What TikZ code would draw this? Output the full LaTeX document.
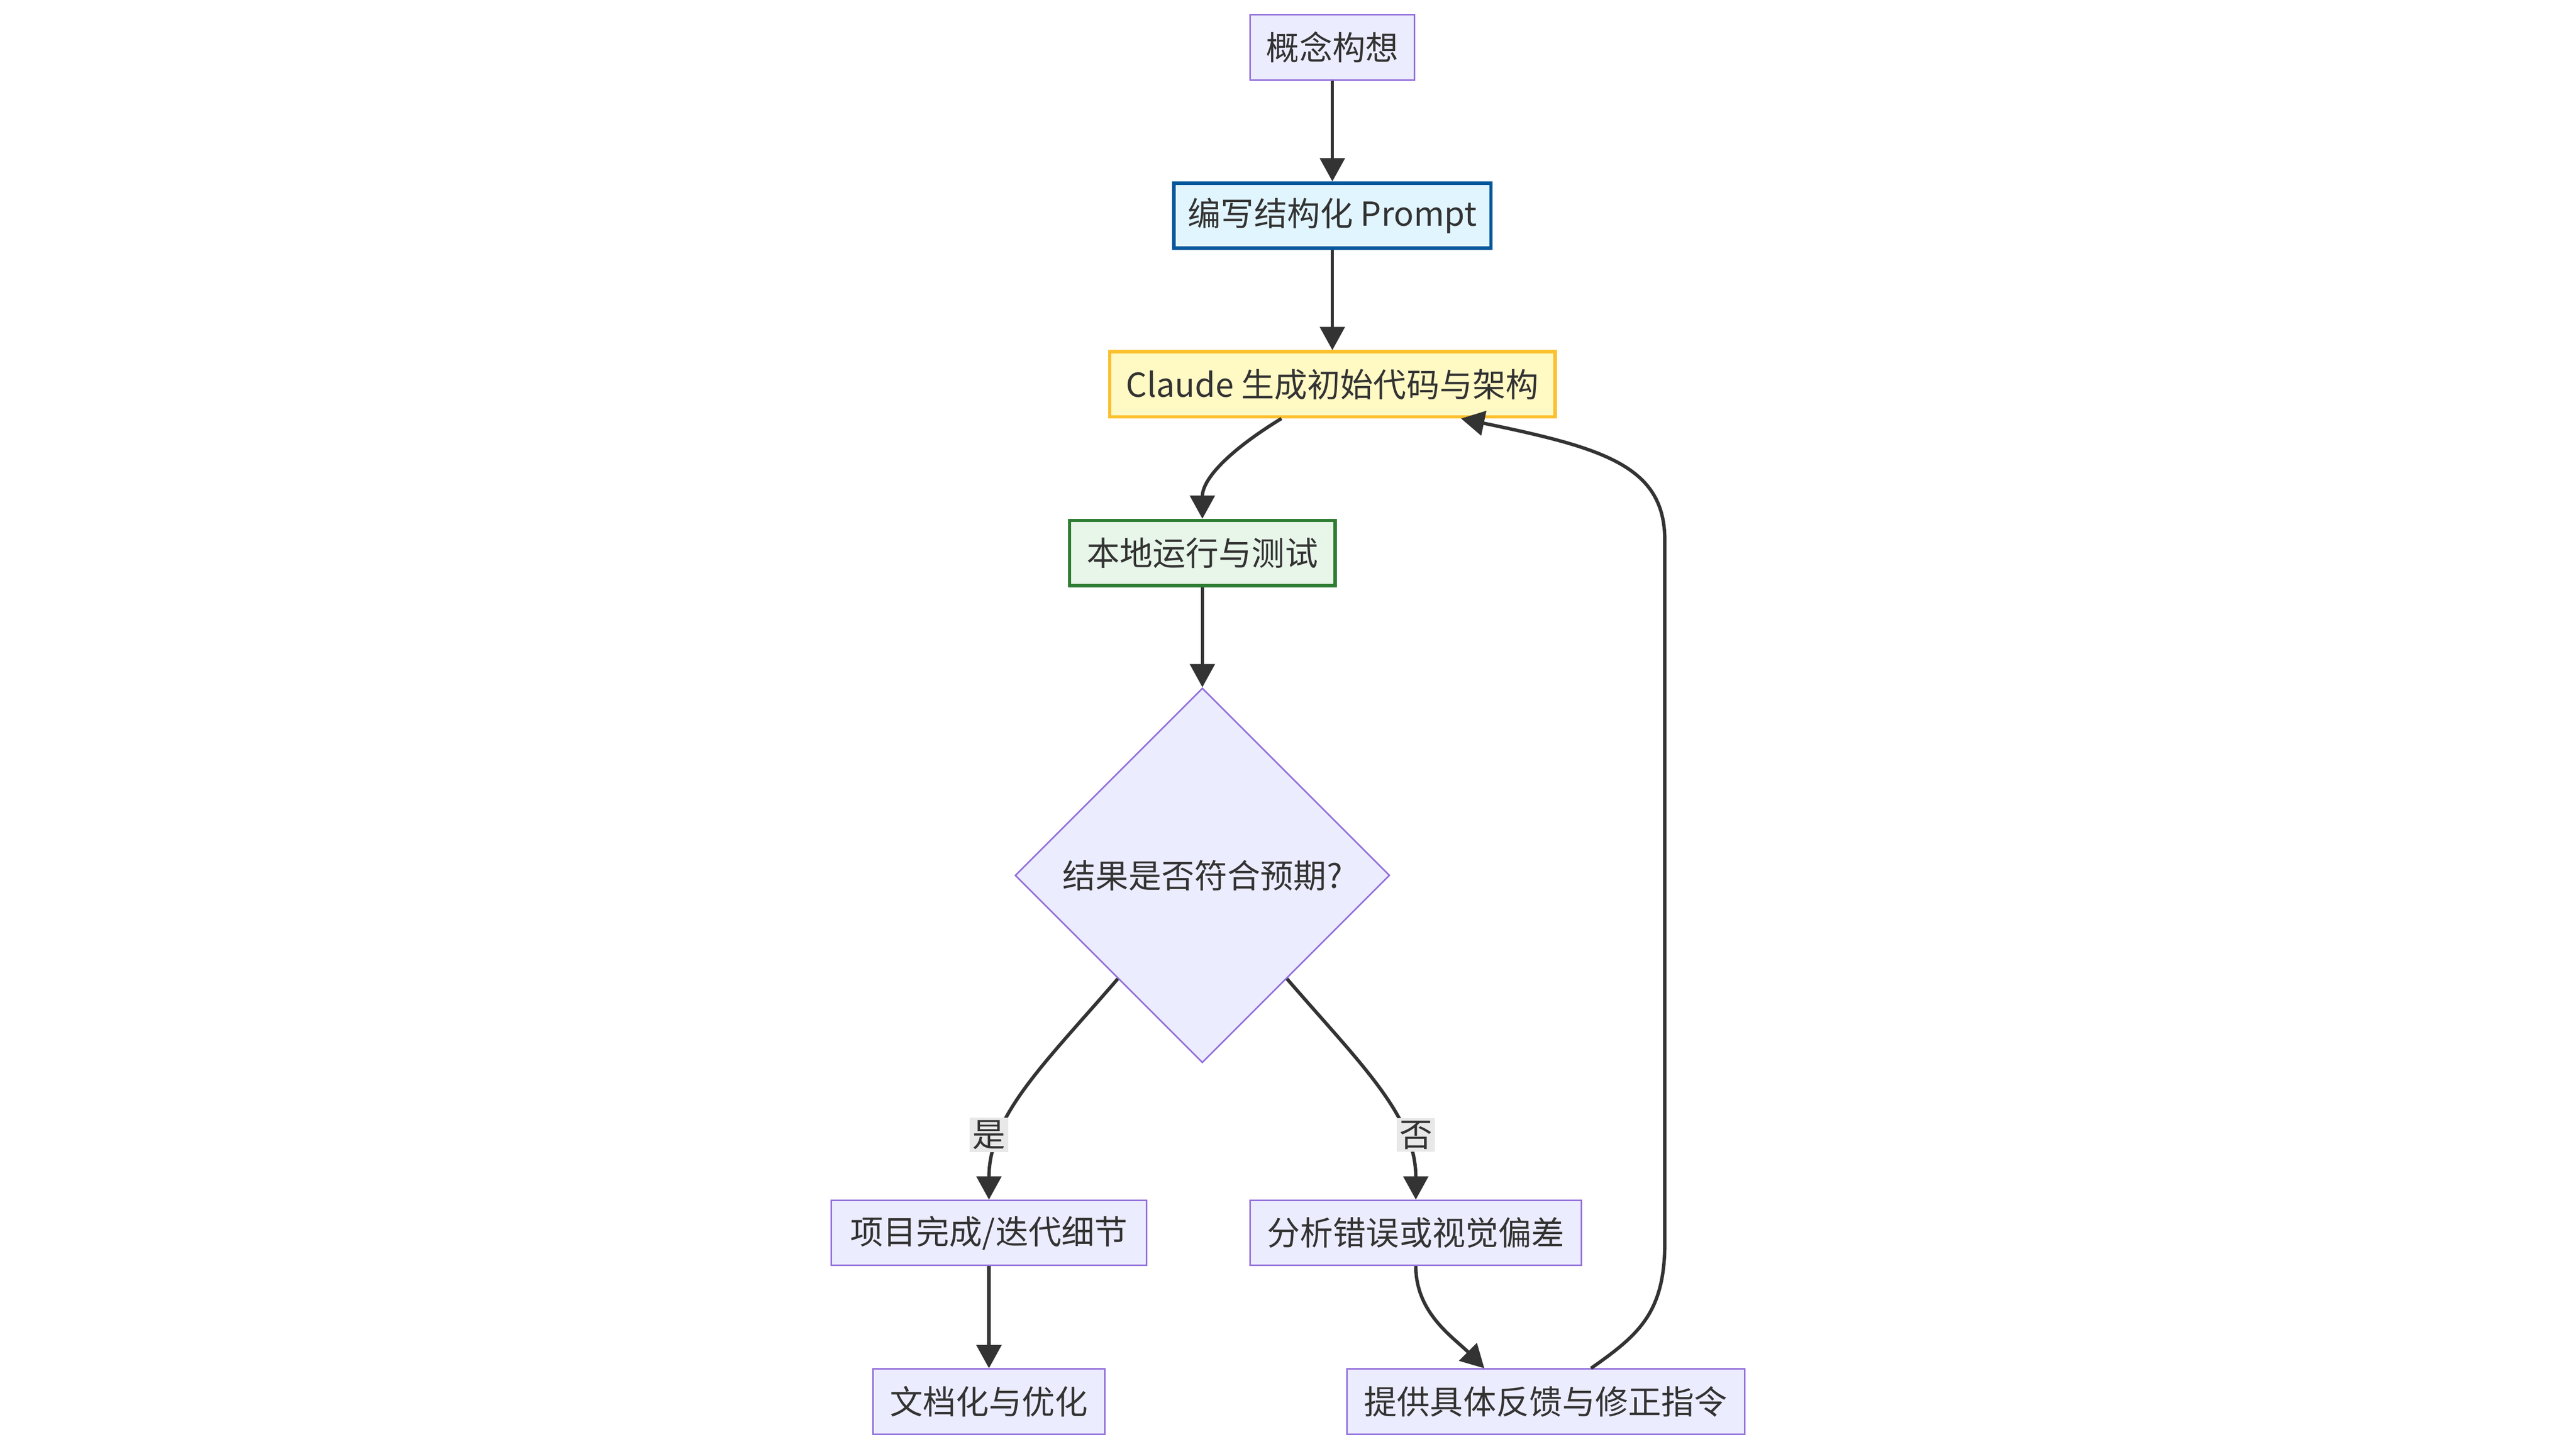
\documentclass[tikz,border=0pt]{standalone}
\usepackage{fontspec}
\setmainfont{Noto Sans CJK SC}
\definecolor{mmfill}{RGB}{236, 236, 255}
\definecolor{mmline}{RGB}{147, 112, 219}
\definecolor{txtgray}{RGB}{51, 51, 51}
\definecolor{promptfill}{RGB}{225, 245, 254}
\definecolor{promptline}{RGB}{1, 87, 155}
\definecolor{claudefill}{RGB}{255, 249, 196}
\definecolor{claudeline}{RGB}{251, 192, 45}
\definecolor{testfill}{RGB}{232, 245, 233}
\definecolor{testline}{RGB}{46, 125, 50}
\definecolor{lblgray}{RGB}{232, 232, 232}
\usetikzlibrary{shapes.geometric, arrows.meta, positioning, calc}
\newcommand{\nodefont}{\fontsize{21.4pt}{25pt}\selectfont}

\begin{document}
\begin{tikzpicture}[
  stepbox/.style={draw=mmline, fill=mmfill, line width=1pt, minimum height=1.48cm, inner sep=0pt, text=txtgray, font=\nodefont},
  thickbox/.style={stepbox, line width=2.2pt},
  decision/.style={diamond, aspect=1, draw=mmline, fill=mmfill, line width=1pt, minimum width=8.53cm, minimum height=8.53cm, inner sep=0pt, text=txtgray, font=\nodefont},
  flowarrow/.style={draw=txtgray, line width=2.2pt, -{Triangle[length=0.53cm, width=0.56cm]}},
  lbl/.style={fill=lblgray, inner sep=0.06cm, text=txtgray, font=\nodefont}
]
  \useasboundingbox (0, 0) rectangle (58.66, -32.98);

  % Main chain
  \node[stepbox, minimum width=3.75cm] (idea) at (30.34, -1.08) {概念构想};
  \node[thickbox, draw=promptline, fill=promptfill, minimum width=7.22cm] (prompt) at (30.34, -4.91) {编写结构化 Prompt};
  \node[thickbox, draw=claudeline, fill=claudefill, minimum width=10.14cm] (claude) at (30.34, -8.75) {Claude 生成初始代码与架构};
  \node[thickbox, draw=testline, fill=testfill, minimum width=6.05cm] (test) at (27.38, -12.59) {本地运行与测试};

  % Decision
  \node[decision] (check) at (27.38, -19.93) {结果是否符合预期?};

  % Branches
  \node[stepbox, minimum width=7.19cm] (done) at (22.52, -28.07) {项目完成/迭代细节};
  \node[stepbox, minimum width=5.28cm] (docs) at (22.52, -31.91) {文档化与优化};
  \node[stepbox, minimum width=7.54cm] (analyze) at (32.24, -28.07) {分析错误或视觉偏差};
  \node[stepbox, minimum width=9.05cm] (feedback) at (35.20, -31.91) {提供具体反馈与修正指令};

  % Connectors
  \draw[flowarrow] (idea) -- (prompt);
  \draw[flowarrow] (prompt) -- (claude);
  \draw[flowarrow] ([xshift=-1.16cm]claude.south) .. controls (28.0, -10.25) and (27.38, -10.9) .. (test.north);
  \draw[flowarrow] (test) -- (check);

  \draw[flowarrow] ($(check.west)!0.55!(check.south)$) .. controls (23.80, -24.20) and (22.52, -25.40) .. (done.north);
  \node[lbl] (yes) at (22.52, -25.84) {是};
  \draw[flowarrow] ($(check.east)!0.55!(check.south)$) .. controls (30.96, -24.20) and (32.24, -25.40) .. (analyze.north);
  \node[lbl] (no) at (32.24, -25.84) {否};

  \draw[flowarrow] (done) -- (docs);
  \draw[flowarrow] (analyze.south) .. controls (32.24, -29.9) and (33.1, -30.45) .. ([xshift=-1.40cm]feedback.north);

  % Loop back to Claude
  \coordinate (loopbot) at (37.91, -28.3);
  \coordinate (looptop) at (37.91, -12.3);
  \draw[flowarrow] ([xshift=1.03cm]feedback.north) .. controls (37.3, -30.4) and (37.91, -29.9) .. (loopbot)
    -- (looptop) .. controls (37.91, -10.6) and (36.5, -10.2) .. ([xshift=2.93cm]claude.south);
\end{tikzpicture}
\end{document}
